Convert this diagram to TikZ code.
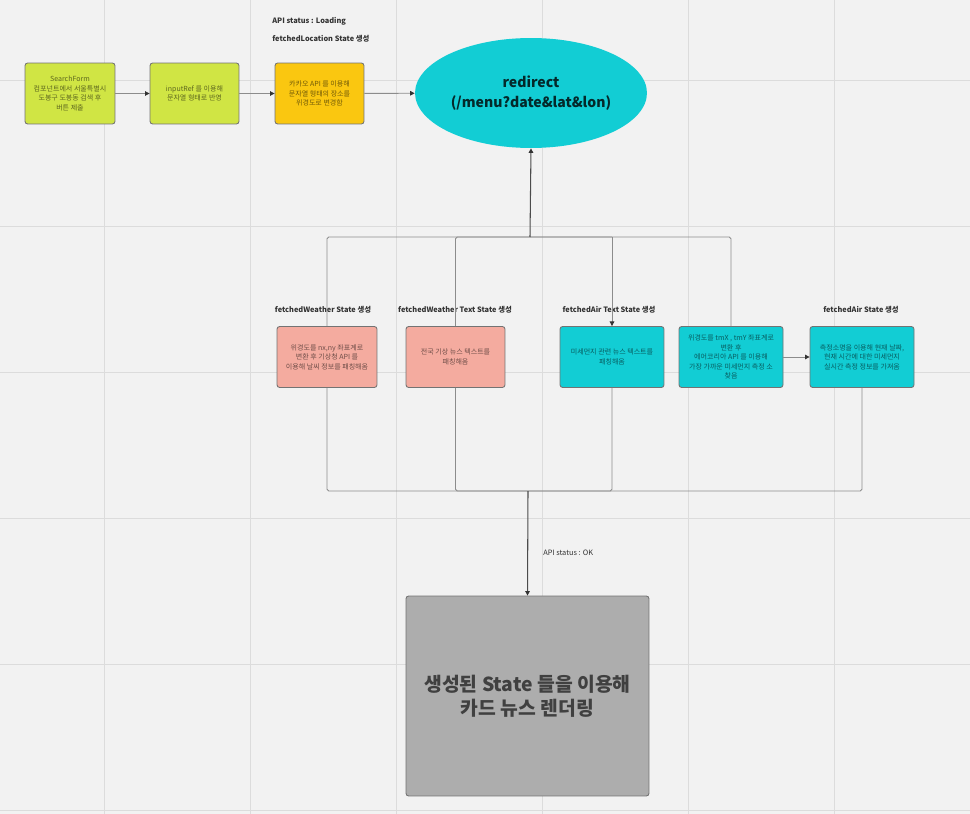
\documentclass[tikz,border=0pt]{standalone}
\usepackage{fontspec}
\setmainfont{Noto Sans CJK KR}
\usepackage{tikz}
\usetikzlibrary{arrows.meta,shapes.geometric}
\definecolor{canvas}{HTML}{F2F2F2}
\definecolor{gridline}{HTML}{DCDCDC}
\definecolor{limecard}{HTML}{D0E544}
\definecolor{ambercard}{HTML}{FAC710}
\definecolor{salmoncard}{HTML}{F4AB9F}
\definecolor{tealcard}{HTML}{12CDD4}
\definecolor{slabcard}{HTML}{ADADAD}

\begin{document}
\begin{tikzpicture}[x=0.02cm,y=-0.02cm,
    >={Triangle[length=2.6pt,width=2.6pt,color=black!80]},
    card/.style={draw=black!55,line width=0.5pt,rounded corners=1.5pt,inner sep=0pt,
      align=center,minimum height=1.22cm,font=\fontsize{4}{5.4}\selectfont,
      text=black,text opacity=0.55},
    tag/.style={inner sep=0pt,font=\fontsize{4.2}{5}\selectfont\bfseries,text=black!80},
    link/.style={draw=black!45,line width=0.5pt,rounded corners=1pt},
    flow/.style={draw=black!70,line width=0.6pt}]
  % canvas and grid
  \useasboundingbox[fill=canvas] (0,0) rectangle (970,814);
  \foreach \gx in {104,250,...,970} \draw[gridline,line width=0.5pt] (\gx,0) -- (\gx,814);
  \foreach \gy in {80,226,...,814} \draw[gridline,line width=0.5pt] (0,\gy) -- (970,\gy);

  % search flow
  \node[card,fill=limecard,minimum width=1.8cm] (search) at (70,93.5)
    {SearchForm\\컴포넌트에서 서울특별시\\도봉구 도봉동 검색 후\\버튼 제출};
  \node[card,fill=limecard,minimum width=1.78cm] (inputref) at (194.5,93.5)
    {inputRef 를 이용해\\문자열 형태로 반영};
  \node[card,fill=ambercard,minimum width=1.78cm] (kakao) at (319.5,93.5)
    {카카오 API 를 이용해\\문자열 형태의 장소를\\위경도로 변경함};
  \node[tag,anchor=west] (loading) at (272,21) {API status : Loading};
  \node[tag,anchor=west] (location) at (272,39) {fetchedLocation State 생성};
  \node[ellipse,fill=tealcard,minimum width=4.64cm,minimum height=2.2cm,inner sep=0pt,
    align=center,font=\fontsize{8}{11.3}\selectfont\bfseries,text=black!80!tealcard]
    (redirect) at (531,93) {redirect\\(/menu?date\&lat\&lon)};
  \draw[link,->] (search) -- (inputref);
  \draw[link,->] (inputref) -- (kakao);
  \draw[link,->] (kakao) -- (redirect);

  % fetched states
  \node[card,fill=salmoncard,minimum width=2cm] (weather) at (327,357)
    {위경도를 nx,ny 좌표계로\\변환 후 기상청 API 를\\이용해 날씨 정보를 패칭해옴};
  \node[card,fill=salmoncard,minimum width=1.98cm] (weathertext) at (455.5,357)
    {전국 기상 뉴스 텍스트를\\패칭해옴};
  \node[card,fill=tealcard,minimum width=2.08cm] (airtext) at (612,357)
    {미세먼지 관련 뉴스 텍스트를\\패칭해옴};
  \node[card,fill=tealcard,minimum width=2.08cm] (station) at (731,357)
    {위경도를 tmX , tmY 좌표계로\\변환 후\\에어코리아 API 를 이용해\\가장 가까운 미세먼지 측정 소\\찾음};
  \node[card,fill=tealcard,minimum width=2.08cm] (air) at (862,357)
    {측정소명을 이용해 현재 날짜,\\현재 시간에 대한 미세먼지\\실시간 측정 정보를 가져옴};
  \node[tag] (weatherlbl) at (323,310) {fetchedWeather State 생성};
  \node[tag] (weathertextlbl) at (455,310) {fetchedWeather Text State 생성};
  \node[tag] (airtextlbl) at (609,310) {fetchedAir Text State 생성};
  \node[tag] (airlbl) at (861,310) {fetchedAir State 생성};
  \draw[link,->] (station) -- (air);

  % join to redirect
  \coordinate (topjoin) at (530,237);
  \draw[link] (weather.north) |- (station.north |- topjoin) -- (station.north);
  \draw[link] (weathertext.north) |- (airtext.north |- topjoin);
  \draw[link,->] (airtext.north |- topjoin) -- (airtext.north);
  \draw[flow,->] (topjoin) -- (redirect.south);

  % join to rendering
  \coordinate (botjoin) at (528,491);
  \draw[link] (weather.south) |- (air.south |- botjoin) -- (air.south);
  \draw[link] (weathertext.south) |- (airtext.south |- botjoin) -- (airtext.south);
  \node[card,fill=slabcard,minimum width=4.86cm,minimum height=4cm,
    font=\fontsize{11}{13.6}\selectfont\bfseries,text=black!75,text opacity=1]
    (render) at (527.5,696) {생성된 State 들을 이용해\\카드 뉴스 렌더링};
  \draw[flow,->] (botjoin) -- (render.north);
  \node[inner sep=0pt,anchor=west,font=\fontsize{4.2}{5}\selectfont,text=black!80]
    (ok) at (543,553) {API status : OK};
\end{tikzpicture}
\end{document}
